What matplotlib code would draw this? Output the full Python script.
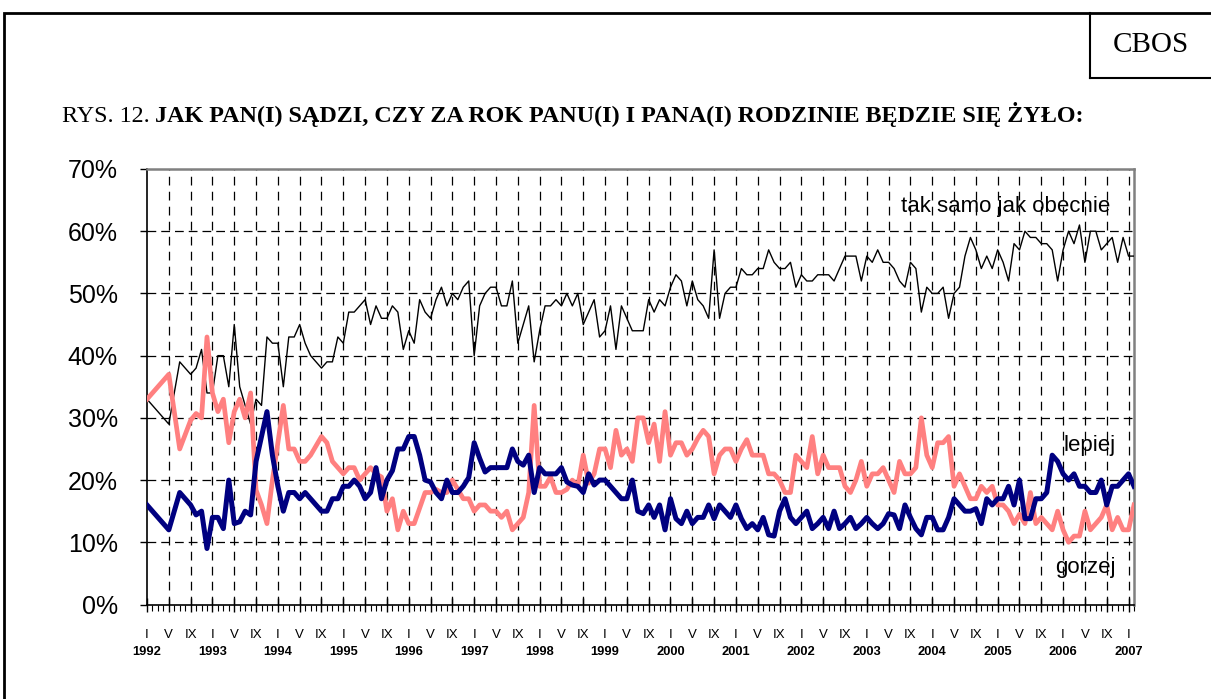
import numpy as np
import matplotlib
matplotlib.use("Agg")
import matplotlib.pyplot as plt
from matplotlib.lines import Line2D
from matplotlib.patches import Rectangle
from matplotlib.ticker import MultipleLocator, FixedLocator

nan = np.nan
# month index 0 = 1992-I ... 180 = 2007-I, 181 = 2007-II
tak_samo = [33, nan, nan, nan, 29, nan, 39, nan, 37, 38, 41, 34, 34, 40, 40, 35, 45, 35, 32, 29,
            33, 32, 43, 42, 42, 35, 43, 43, 45, 42, 40, 39, 38, 39, 39, 43, 42, 47, 47, 48,
            49, 45, 48, 46, 46, 48, 47, 41, 44, 42, 49, 47, 46, 49, 51, 48, 50, 49, 51, 52,
            40, 48, 50, 51, 51, 48, 48, 52, 42, 45, 48, 39, 44, 48, 48, 49, 48, 50, 48, 50,
            45, 47, 49, 43, 44, 48, 41, 48, 46, 44, 44, 44, 49, 47, 49, 48, 51, 53, 52, 48,
            52, 49, 48, 46, 57, 46, 50, 51, 51, 54, 53, 53, 54, 54, 57, 55, 54, 54, 55, 51,
            53, 52, 52, 53, 53, 53, 52, 54, 56, 56, 56, 52, 56, 55, 57, 55, 55, 54, 52, 51,
            55, 54, 47, 51, 50, 50, 51, 46, 50, 51, 56, 59, 57, 54, 56, 54, 57, 55, 52, 58,
            57, 60, 59, 59, 58, 58, 57, 52, 57, 60, 58, 61, 55, 60, 60, 57, 58, 59, 55, 59,
            56, 56]
gorzej = [33, nan, nan, nan, 37, nan, 25, nan, 29.6, 30.7, 30, 43, 34, 31, 33, 26, 31, 33, 30, 34,
          18.4, 16, 13, 20, 26, 32, 25, 25, 23, 23, 24, 25.5, 27, 26, 23, 22, 21, 22, 22, 20,
          21, 22, 21, 20.5, 15, 17, 12, 15, 13, 13, 15.5, 18, 18, 18.5, 18, 18, 20, 18.5, 17, 17,
          15, 16, 16, 15, 15, 14, 15, 12, 13, 14, 18, 32, 19, 19, 20.5, 18, 18, 18.5, 20, 19,
          24, 19.5, 21, 25, 25, 22, 28, 24, 25, 23, 30, 30, 26, 29, 23, 31, 24, 26, 26, 24,
          25, 26.7, 28, 27, 21, 24, 25, 25, 23, 25, 26.5, 24, 24, 24, 21, 21, 20, 18, 18, 24,
          23, 22, 27, 21, 24, 22, 22, 22, 19, 18, 20, 23, 19, 21, 21, 22, 20, 18, 23, 21,
          21, 22, 30, 24, 22, 26, 26, 27, 19, 21, 19, 17, 17, 19, 18, 19, 16, 16, 15, 13,
          14.5, 13, 18, 13, 14, 13, 12, 15, 12, 10, 11, 11, 15, 12, 13, 14, 16, 12, 14, 12,
          12, 16]
lepiej = [16, nan, nan, nan, 12, nan, 18, nan, 16, 14.4, 15, 9, 14, 14, 12.2, 20, 13, 13.3, 15, 14.4,
          23, 27, 31, 24, 19, 15, 18, 18, 17, 18, 17, 16, 15, 15, 17, 17, 19, 19, 20, 19,
          17, 18, 22, 17, 20, 21.5, 25, 25, 27, 27, 24, 20, 19.7, 18, 17, 20, 18, 18, 19, 20.4,
          26, 23.5, 21.3, 22, 22, 22, 22, 25, 23, 22.4, 24, 18, 22, 21, 21, 21, 22, 19.7, 19.2, 19,
          18, 21, 19.2, 20, 20, 19, 18, 17, 17, 20, 15, 14.6, 16, 14, 16, 12, 17, 13.8, 13, 15,
          13, 14, 14, 16, 13.8, 16, 15, 14, 16, 13.8, 12.2, 13, 12, 14, 11.2, 11, 15, 17, 14, 13,
          14, 15, 12.2, 13, 14, 12.2, 15, 12.2, 13, 14, 12.2, 13, 14, 13, 12.2, 13, 14.6, 14.4, 12.2, 16,
          14, 12.2, 11.2, 14, 14, 12, 12, 14, 17, 16, 15, 15, 15.4, 13, 17, 16, 17, 17, 19, 16,
          20, 13.8, 13.8, 17, 17, 18, 24, 23, 21, 20, 21, 19, 19, 18, 18, 20, 16, 19, 19, 20,
          21, 19]
month_labels = ["I", "V", "IX"]
years = list(range(1992, 2008))
y_ticks = [0, 10, 20, 30, 40, 50, 60, 70]

W, H = 1211, 699
def fx(p):
    return p / W
def fy(p):
    return 1 - p / H

fig = plt.figure(figsize=(W / 100, H / 100), dpi=100)
fig.patch.set_facecolor("white")

ax = fig.add_axes([fx(147), fy(604.5), fx(1134) - fx(147), fy(169) - fy(604.5)])
n = len(tak_samo)
x = np.arange(n)

def plot_series(vals, **kw):
    v = np.array(vals, dtype=float)
    ok = ~np.isnan(v)
    ax.plot(x[ok], v[ok], **kw)

plot_series(tak_samo, color="black", lw=1.0, zorder=3)
plot_series(gorzej, color="#FF8080", lw=3.4, zorder=4, solid_joinstyle="round")
plot_series(lepiej, color="#000080", lw=3.6, zorder=5, solid_joinstyle="round")

ax.set_xlim(0, 181)
ax.set_ylim(0, 70)

# gridlines
for yv in y_ticks[1:-1]:
    ax.axhline(yv, color="black", lw=0.9, ls=(0, (7, 4)), zorder=1)
major = np.arange(0, 181, 4)
for xv in major[1:]:
    ax.axvline(xv, color="black", lw=0.9, ls=(0, (7, 5)), zorder=1)

ax.xaxis.set_major_locator(FixedLocator(major))
ax.xaxis.set_minor_locator(MultipleLocator(1))
ax.tick_params(axis="x", which="major", direction="inout", length=10, width=1, labelbottom=False)
ax.tick_params(axis="x", which="minor", direction="out", length=4, width=0.8)
ax.set_yticks(y_ticks)
ax.set_yticklabels([f"{v}%" for v in y_ticks], fontsize=18, fontfamily="Liberation Sans")
ax.tick_params(axis="y", direction="out", length=5, width=1, pad=16)

for i, m in enumerate(major):
    ax.text(m, -0.07, month_labels[i % 3], transform=ax.get_xaxis_transform(),
            ha="center", va="center", fontsize=9.5, fontfamily="Liberation Sans")
for j, yr in enumerate(years):
    ax.text(12 * j, -0.11, str(yr), transform=ax.get_xaxis_transform(),
            ha="center", va="center", fontsize=9.3, fontweight="bold", fontfamily="Liberation Sans")

for s in ["left", "bottom"]:
    ax.spines[s].set_color("black")
    ax.spines[s].set_linewidth(1.2)
for s in ["top", "right"]:
    ax.spines[s].set_color("#808080")
    ax.spines[s].set_linewidth(1.8)

# series labels
ax.text(138.2, 63.9, "tak samo jak obecnie", fontsize=16, fontfamily="Liberation Sans", va="center", ha="left", zorder=6)
ax.text(168, 25.5, "lepiej", fontsize=16, fontfamily="Liberation Sans", va="center", ha="left", zorder=6)
ax.text(166.5, 5.9, "gorzej", fontsize=16, fontfamily="Liberation Sans", va="center", ha="left", zorder=6)

# outer frame (right and bottom edges lie outside the picture)
fig.add_artist(Rectangle((fx(4), fy(720)), fx(1230) - fx(4), fy(13) - fy(720), transform=fig.transFigure,
                         fill=False, lw=2, edgecolor="black"))
fig.add_artist(Line2D([fx(1090), fx(1090)], [fy(13), fy(78)], color="black", lw=1.5, transform=fig.transFigure))
fig.add_artist(Line2D([fx(1090), fx(1211)], [fy(78), fy(78)], color="black", lw=1.5, transform=fig.transFigure))
fig.text(fx(1151), fy(45), "CBOS", fontsize=21, fontfamily="Liberation Serif", ha="center", va="center")

# title
t1 = fig.text(fx(62), fy(122), "RYS. 12.", fontsize=17.4, fontfamily="Liberation Serif", ha="left", va="baseline")
fig.canvas.draw()
r = fig.canvas.get_renderer()
bb = t1.get_window_extent(r)
fig.text(bb.x1 / W + fx(5), fy(122), "JAK PAN(I) SĄDZI, CZY ZA ROK PANU(I) I PANA(I) RODZINIE BĘDZIE SIĘ ŻYŁO:",
         fontsize=17.4, fontweight="bold", fontfamily="Liberation Serif", ha="left", va="baseline")

fig.savefig("out.png", dpi=100)
